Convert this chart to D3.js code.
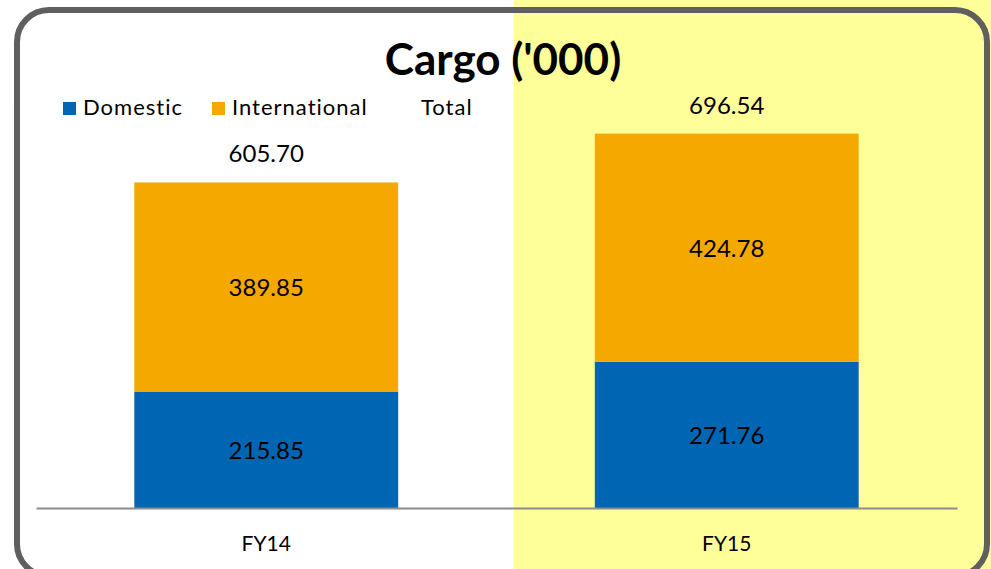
<!DOCTYPE html>
<html>
<head>
<meta charset="utf-8">
<script src="https://cdn.jsdelivr.net/npm/d3@7"></script>
<style>
  body { margin: 0; background: #fff; }
  svg { display: block; font-family: Lato, "Open Sans", sans-serif; }
</style>
</head>
<body>
<div id="chart"></div>
<script>
// chart values
const years = ["FY14", "FY15"];
const domestic = [215.85, 271.76];
const international = [389.85, 424.78];
const totals = [605.70, 696.54];
const seriesNames = ["Domestic", "International", "Total"];

const width = 991, height = 569;
const colors = { Domestic: "#0066b3", International: "#f5a800" };

const svg = d3.select("#chart").append("svg")
    .attr("width", width)
    .attr("height", height);

// highlight on the current year
svg.append("rect")
    .attr("x", 514).attr("y", 0)
    .attr("width", width - 514).attr("height", height)
    .attr("fill", "#ffff99");

// rounded frame
svg.append("rect")
    .attr("x", 17).attr("y", 10)
    .attr("width", 970).attr("height", 566)
    .attr("rx", 32).attr("ry", 32)
    .attr("fill", "none")
    .attr("stroke", "#5f5f5f")
    .attr("stroke-width", 6);

// scales
const x = d3.scaleBand().domain(years).range([36, 957]);
const y = d3.scaleLinear().domain([0, 800]).range([508, 78]);
const barW = x.bandwidth() * 0.573;
const barX = d => x(d) + (x.bandwidth() - barW) / 2;

const data = years.map((yr, i) => ({
    year: yr,
    Domestic: domestic[i],
    International: international[i],
    total: totals[i]
}));

const stack = d3.stack().keys(["Domestic", "International"])(data);

const layers = svg.selectAll(".layer")
    .data(stack)
    .enter().append("g")
    .attr("class", "layer")
    .attr("fill", s => colors[s.key]);

layers.selectAll("rect")
    .data(s => s)
    .enter().append("rect")
    .attr("x", d => barX(d.data.year))
    .attr("width", barW)
    .attr("y", d => y(d[1]))
    .attr("height", d => y(d[0]) - y(d[1]));

// segment labels
layers.selectAll("text")
    .data(s => s.map(d => ({ d, key: s.key })))
    .enter().append("text")
    .attr("x", o => x(o.d.data.year) + x.bandwidth() / 2)
    .attr("y", o => (y(o.d[0]) + y(o.d[1])) / 2 + 9)
    .attr("text-anchor", "middle")
    .attr("font-size", 24)
    .attr("fill", "#000")
    .text(o => (o.d[1] - o.d[0]).toFixed(2));

// totals
svg.selectAll(".total")
    .data(data)
    .enter().append("text")
    .attr("class", "total")
    .attr("x", d => x(d.year) + x.bandwidth() / 2)
    .attr("y", d => y(d.total) - 20)
    .attr("text-anchor", "middle")
    .attr("font-size", 24)
    .text(d => d.total.toFixed(2));

// baseline + category labels
const axis = svg.append("g")
    .attr("transform", `translate(0,${y(0)})`)
    .call(d3.axisBottom(x).tickSize(0).tickPadding(28));
axis.select(".domain").attr("stroke", "#8c8c8c").attr("stroke-width", 2);
axis.selectAll("text")
    .attr("font-family", "Lato, sans-serif")
    .attr("font-size", 21)
    .attr("fill", "#000");

// title
svg.append("text")
    .attr("x", 503).attr("y", 75)
    .attr("text-anchor", "middle")
    .attr("font-size", 44)
    .attr("font-weight", "bold")
    .text("Cargo ('000)");

// legend
const legendX = [63, 212, 401];
const legend = svg.selectAll(".legend")
    .data(seriesNames)
    .enter().append("g")
    .attr("class", "legend")
    .attr("transform", (d, i) => `translate(${legendX[i]},0)`);
legend.filter(d => colors[d])
    .append("rect")
    .attr("x", 0).attr("y", 102)
    .attr("width", 13).attr("height", 13)
    .attr("fill", d => colors[d]);
legend.append("text")
    .attr("x", 20).attr("y", 115)
    .attr("font-size", 22)
    .attr("letter-spacing", 1)
    .text(d => d);
</script>
</body>
</html>
